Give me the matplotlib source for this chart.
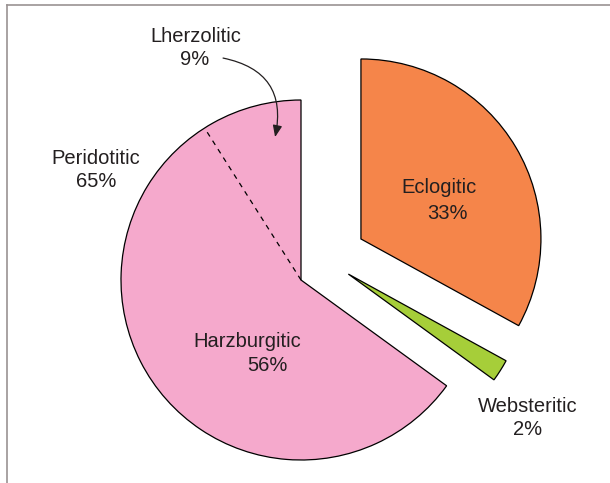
import matplotlib
matplotlib.use('Agg')
import matplotlib.pyplot as plt
from matplotlib.lines import Line2D
import numpy as np

# 数据
names = ['Peridotitic', 'Websteritic', 'Eclogitic']
shares = [65, 2, 33]
sub_names = ['Lherzolitic', 'Harzburgitic']
sub_shares = [9, 56]

colors = ['#f5a9cc', '#a6ce39', '#f5854a']
text_color = '#231f20'

plt.rcParams['font.family'] = ['Liberation Sans', 'DejaVu Sans']

fig = plt.figure(figsize=(6.1, 4.83), dpi=100)
ax = fig.add_axes([0, 0, 1, 1])

wedges, _ = ax.pie(shares, startangle=90, colors=colors, radius=1.0,
                   wedgeprops=dict(edgecolor='black', linewidth=0.9))
# 拉开的扇区（位置从原图读出）
wedges[1].set_center((0.263, 0.033))
wedges[2].set_center((0.333, 0.228))

# Lherzolitic / Harzburgitic 之间的虚线
ang = np.deg2rad(90 + 360 * sub_shares[0] / 100)
ax.plot([0, np.cos(ang)], [0, np.sin(ang)], color='black', lw=0.9,
        linestyle=(0, (4, 4)))

ax.set_xlim(-301 / 180, (610 - 301) / 180)
ax.set_ylim(-(483 - 280) / 180, 280 / 180)
ax.set_aspect('equal')
ax.axis('off')

# 标签：每行单独放
lines = [
    (sub_names[0], -0.583, 1.324), (f'{sub_shares[0]}%', -0.589, 1.194),
    (names[0], -1.139, 0.643), (f'{shares[0]}%', -1.139, 0.515),
    (names[2], 0.767, 0.482), (f'{shares[2]}%', 0.811, 0.337),
    (sub_names[1], -0.30, -0.371), (f'{sub_shares[1]}%', -0.186, -0.506),
    (names[1], 1.261, -0.732), (f'{shares[1]}%', 1.256, -0.861),
]
for s, x, y in lines:
    ax.text(x, y, s, ha='center', va='baseline', fontsize=14.5, color=text_color)

# 弯箭头指向 Lherzolitic
ax.annotate('', xy=(-0.144, 0.794), xytext=(-0.433, 1.233),
            arrowprops=dict(arrowstyle='-|>,head_length=0.5,head_width=0.2',
                            color=text_color, lw=0.9,
                            mutation_scale=14,
                            connectionstyle='arc3,rad=-0.5',
                            shrinkA=0, shrinkB=0))

# 外框（上、左）
fig.add_artist(Line2D([7 / 610, 1], [1 - 4.5 / 483, 1 - 4.5 / 483],
                      color='#9a9292', lw=1.2))
fig.add_artist(Line2D([7.3 / 610, 7.3 / 610], [0, 1 - 4.5 / 483],
                      color='#9a9292', lw=1.2))

fig.savefig('out.png', dpi=100)
